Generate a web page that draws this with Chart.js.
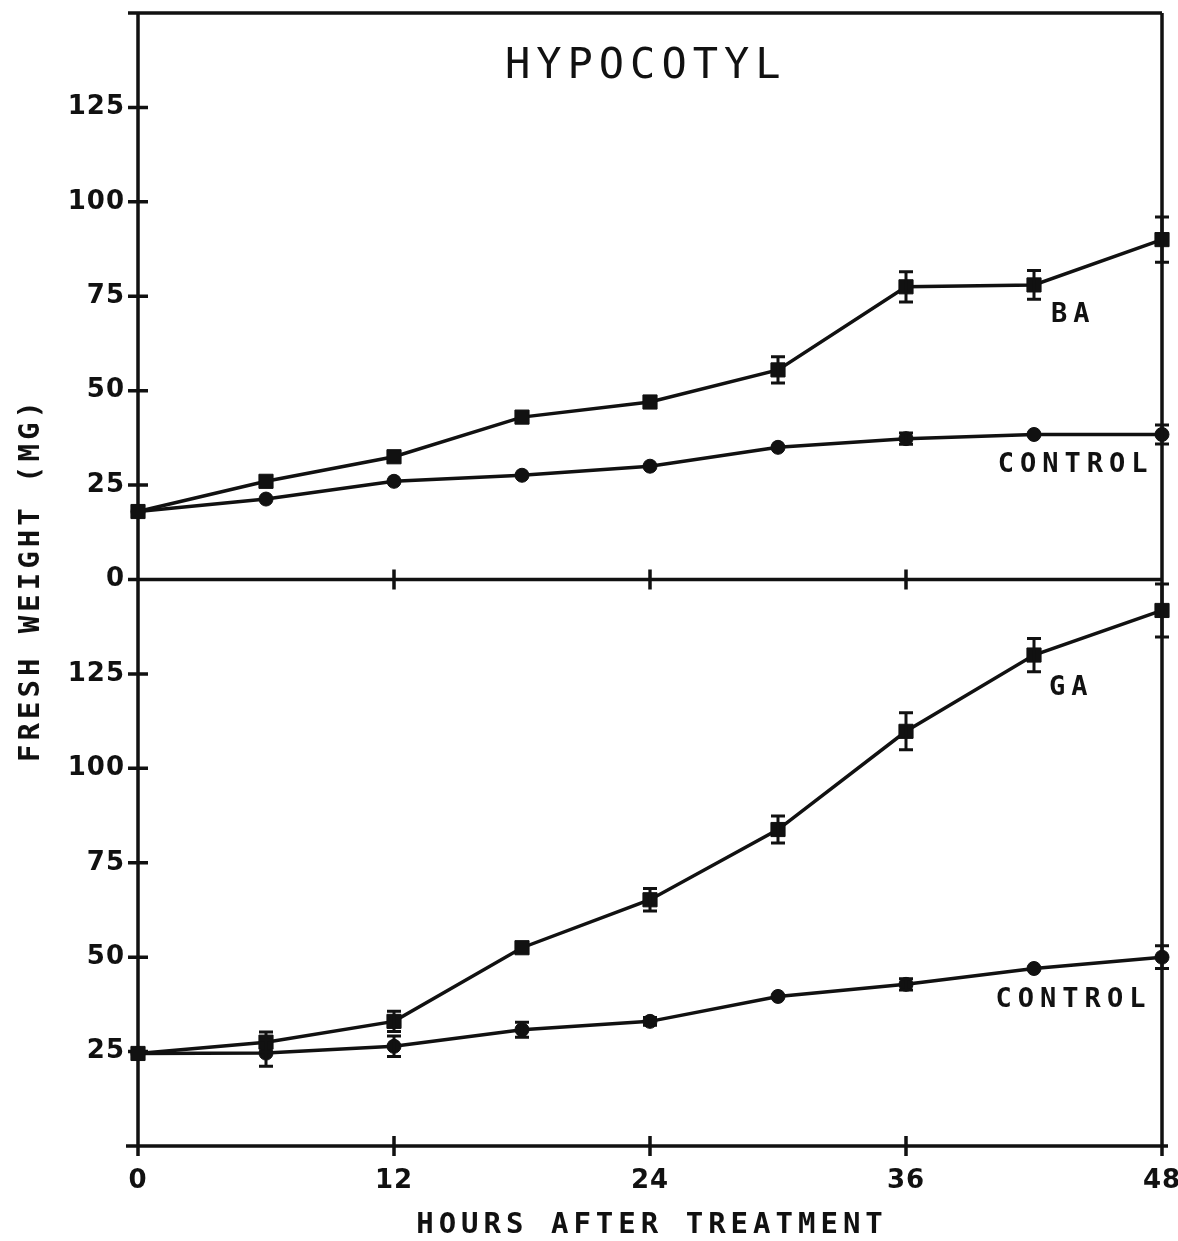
<!DOCTYPE html>
<html>
<head>
<meta charset="utf-8">
<title>Hypocotyl fresh weight</title>
<script src="https://cdn.jsdelivr.net/npm/chart.js@4/dist/chart.umd.min.js"></script>
<style>
  html, body { margin: 0; padding: 0; background: #ffffff; }
  #wrap { position: relative; width: 1178px; height: 1241px; }
  canvas { display: block; }
</style>
</head>
<body>
<div id="wrap"><canvas id="c" width="1178" height="1241"></canvas></div>
<script>
// Sampling times (hours after treatment)
const hours = [0, 6, 12, 18, 24, 30, 36, 42, 48];

// Upper panel: benzyladenine (BA) vs control, fresh weight in mg, with +/- error
const baWeight      = [18, 26, 32.5, 43, 47, 55.5, 77.5, 78, 90];
const baErr         = [0, 0, 0, 0, 0, 3.5, 4, 3.8, 6];
const ctrlTopWeight = [18, 21.3, 26, 27.6, 30, 35, 37.3, 38.4, 38.4];
const ctrlTopErr    = [0, 0, 0, 0, 0, 0, 1.5, 0, 2.5];

// Lower panel: gibberellin (GA) vs control
const gaWeight      = [24.5, 27.5, 33, 52.5, 65.2, 83.8, 109.8, 130, 141.8];
const gaErr         = [0, 2.7, 2.7, 0, 3, 3.6, 4.9, 4.4, 7];
const ctrlBotWeight = [24.5, 24.6, 26.4, 30.8, 33, 39.6, 42.8, 47, 50];
const ctrlBotErr    = [0, 3.5, 2.7, 2, 1, 0, 1.5, 0, 3];

// Tick labels
const xTicks     = [0, 12, 24, 36, 48];
const topYTicks  = [0, 25, 50, 75, 100, 125];
const botYTicks  = [25, 50, 75, 100, 125];
const yTickMarks = [0, 25, 50, 75, 100, 125, 150];

const INK = '#111111';
const MONO = '"DejaVu Sans Mono", "Liberation Mono", monospace';
const SANS = '"DejaVu Sans", "Liberation Sans", sans-serif';

function series(values) {
  return hours.map((h, i) => ({ x: h, y: values[i] }));
}

const baseDataset = {
  borderColor: INK,
  backgroundColor: INK,
  borderWidth: 3.5,
  pointBackgroundColor: INK,
  pointBorderColor: INK,
  pointBorderWidth: 1,
  tension: 0,
  clip: false,
  xAxisID: 'x'
};

const datasets = [
  { label: 'BA',      data: series(baWeight),      errors: baErr,      yAxisID: 'yTop', pointStyle: 'rect',   pointRadius: 10 },
  { label: 'CONTROL', data: series(ctrlTopWeight), errors: ctrlTopErr, yAxisID: 'yTop', pointStyle: 'circle', pointRadius: 7 },
  { label: 'GA',      data: series(gaWeight),      errors: gaErr,      yAxisID: 'yBot', pointStyle: 'rect',   pointRadius: 10 },
  { label: 'CONTROL', data: series(ctrlBotWeight), errors: ctrlBotErr, yAxisID: 'yBot', pointStyle: 'circle', pointRadius: 7 }
].map(d => Object.assign({}, baseDataset, d));

// In-plot text, anchored in data units of the panel it belongs to
const notes = [
  { text: 'HYPOCOTYL', axis: 'yTop', x: 23.8, y: 135.8, align: 'center', font: '42px ' + MONO,      spacing: 6 },
  { text: 'BA',        axis: 'yTop', x: 42.8, y: 70,    align: 'left',   font: 'bold 27px ' + MONO, spacing: 6 },
  { text: 'CONTROL',   axis: 'yTop', x: 40.3, y: 30.3,  align: 'left',   font: 'bold 27px ' + MONO, spacing: 6 },
  { text: 'GA',        axis: 'yBot', x: 42.7, y: 121.3, align: 'left',   font: 'bold 27px ' + MONO, spacing: 6 },
  { text: 'CONTROL',   axis: 'yBot', x: 40.2, y: 38.7,  align: 'left',   font: 'bold 27px ' + MONO, spacing: 6 }
];

const TICK = 10;

// Frame: axes, panel divider, crossing tick marks and axis titles
const framePlugin = {
  id: 'frame',
  beforeDraw(chart) {
    chart.ctx.letterSpacing = '1px';
  },
  beforeDatasetsDraw(chart) {
    const c = chart.ctx;
    const xs = chart.scales.x, yT = chart.scales.yTop, yB = chart.scales.yBot;
    const left = xs.getPixelForValue(0), right = xs.getPixelForValue(48);
    const top = yT.getPixelForValue(150), mid = yT.getPixelForValue(0), bottom = yB.getPixelForValue(0);
    c.save();
    c.strokeStyle = INK;
    c.lineWidth = 3.5;
    c.lineCap = 'butt';
    c.beginPath();
    // outer frame
    c.moveTo(left - TICK, top); c.lineTo(right, top);
    c.moveTo(left, top); c.lineTo(left, bottom + TICK);
    c.moveTo(right, top); c.lineTo(right, bottom + TICK);
    c.moveTo(left - TICK - 2, bottom); c.lineTo(right + 6, bottom);
    // panel divider
    c.moveTo(left - TICK, mid); c.lineTo(right, mid);
    // y tick marks on both panels
    [yT, yB].forEach(ys => {
      yTickMarks.forEach(v => {
        const py = ys.getPixelForValue(v);
        c.moveTo(left - TICK, py); c.lineTo(left + TICK, py);
      });
    });
    // x tick marks on the divider and the bottom axis
    xTicks.forEach(v => {
      const px = xs.getPixelForValue(v);
      c.moveTo(px, mid - TICK); c.lineTo(px, mid + TICK);
      c.moveTo(px, bottom - TICK); c.lineTo(px, bottom + TICK);
    });
    c.stroke();

    c.fillStyle = INK;
    c.font = 'bold 29px ' + MONO;
    c.textAlign = 'center';
    c.textBaseline = 'middle';

    // x axis title
    c.letterSpacing = '5px';
    c.fillText('HOURS AFTER TREATMENT', (left + right) / 2 + 2, 1225);

    // y axis title, shared by both panels
    c.letterSpacing = '4px';
    c.translate(31, (top + bottom) / 2);
    c.rotate(-Math.PI / 2);
    c.fillText('FRESH WEIGHT (MG)', 0, 0);
    c.restore();
  },
  afterDatasetsDraw(chart) {
    const c = chart.ctx;
    const xs = chart.scales.x;
    c.save();
    c.strokeStyle = INK;
    c.lineWidth = 3;
    c.beginPath();
    chart.data.datasets.forEach(ds => {
      const ys = chart.scales[ds.yAxisID];
      ds.data.forEach((p, i) => {
        const e = ds.errors[i];
        if (!e) return;
        const px = xs.getPixelForValue(p.x);
        const hi = ys.getPixelForValue(p.y + e), lo = ys.getPixelForValue(p.y - e);
        c.moveTo(px, hi); c.lineTo(px, lo);
        c.moveTo(px - 7, hi); c.lineTo(px + 7, hi);
        c.moveTo(px - 7, lo); c.lineTo(px + 7, lo);
      });
    });
    c.stroke();

    c.fillStyle = INK;
    c.textBaseline = 'middle';
    notes.forEach(n => {
      c.font = n.font;
      c.letterSpacing = n.spacing + 'px';
      c.textAlign = n.align;
      c.fillText(n.text, xs.getPixelForValue(n.x), chart.scales[n.axis].getPixelForValue(n.y));
    });
    c.restore();
  }
};

const tickFont = { family: SANS, weight: 'bold', size: 26 };

function yScale(labels) {
  return {
    type: 'linear',
    position: 'left',
    stack: 'panels',
    stackWeight: 1,
    min: 0,
    max: 150,
    afterBuildTicks: s => { s.ticks = yTickMarks.map(v => ({ value: v })); },
    ticks: {
      callback: v => labels.includes(v) ? String(v) : '',
      color: INK,
      font: tickFont,
      padding: 13
    },
    grid: { display: false, drawTicks: false },
    border: { display: false },
    afterFit: s => { s.width = 138; s.paddingTop = 0; s.paddingBottom = 0; }
  };
}

new Chart(document.getElementById('c'), {
  type: 'line',
  data: { datasets },
  options: {
    responsive: false,
    animation: false,
    events: [],
    layout: { padding: { top: 13, right: 16, bottom: 0, left: 0 } },
    plugins: { legend: { display: false }, tooltip: { enabled: false } },
    scales: {
      x: {
        type: 'linear',
        position: 'bottom',
        min: 0,
        max: 48,
        afterBuildTicks: s => { s.ticks = xTicks.map(v => ({ value: v })); },
        ticks: {
          color: INK,
          font: tickFont,
          padding: 20,
          maxRotation: 0,
          autoSkip: false
        },
        grid: { display: false, drawTicks: false },
        border: { display: false },
        title: { display: false },
        afterFit: s => { s.height = 95; s.paddingLeft = 0; s.paddingRight = 0; }
      },
      yBot: yScale(botYTicks),
      yTop: yScale(topYTicks)
    }
  },
  plugins: [framePlugin]
});
</script>
</body>
</html>
